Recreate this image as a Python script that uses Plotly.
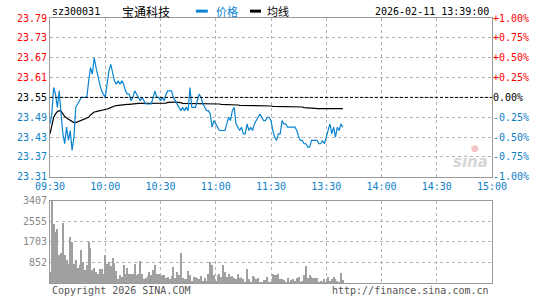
import plotly.graph_objects as go

# ---------------- data ----------------
minutes = list(range(160))  # minute index from 09:30 (lunch break removed)

price = [
    23.47, 23.50, 23.58, 23.56, 23.52, 23.57, 23.50, 23.44, 23.41, 23.46,
    23.42, 23.45, 23.39, 23.43, 23.52, 23.53, 23.54, 23.55, 23.55, 23.55,
    23.55, 23.60, 23.64, 23.62, 23.67, 23.64, 23.61, 23.59, 23.57, 23.56,
    23.55, 23.59, 23.63, 23.65, 23.62, 23.60, 23.59, 23.60, 23.59, 23.60,
    23.59, 23.57, 23.56, 23.56, 23.54, 23.55, 23.57, 23.56, 23.55, 23.54,
    23.55, 23.54, 23.53, 23.53, 23.53, 23.53, 23.55, 23.57, 23.55, 23.55,
    23.54, 23.55, 23.54, 23.56, 23.57, 23.57, 23.57, 23.55, 23.54, 23.53,
    23.52, 23.51, 23.52, 23.51, 23.52, 23.51, 23.58, 23.52, 23.52, 23.52,
    23.54, 23.56, 23.55, 23.53, 23.52, 23.51, 23.51, 23.50, 23.46, 23.48,
    23.47, 23.46, 23.45, 23.45, 23.45, 23.45, 23.47, 23.49, 23.48, 23.51,
    23.52, 23.47, 23.46, 23.45, 23.46, 23.44, 23.44, 23.47, 23.45, 23.46,
    23.45, 23.47, 23.48, 23.49, 23.50, 23.49, 23.48, 23.48, 23.49, 23.49,
    23.48, 23.45, 23.43, 23.42, 23.44, 23.44, 23.48, 23.47, 23.47, 23.46,
    23.46, 23.46, 23.46, 23.46, 23.45, 23.43, 23.42, 23.42, 23.41, 23.41,
    23.40, 23.40, 23.42, 23.42, 23.42, 23.42, 23.41, 23.41, 23.42, 23.41,
    23.43, 23.45, 23.47, 23.44, 23.46, 23.43, 23.46, 23.45, 23.47, 23.46,
]

avg_price = [
    23.440, 23.470, 23.490, 23.500, 23.507, 23.510, 23.508, 23.500, 23.492, 23.488,
    23.484, 23.480, 23.477, 23.474, 23.474, 23.476, 23.478, 23.480, 23.482, 23.484,
    23.486, 23.490, 23.497, 23.503, 23.506, 23.507, 23.508, 23.509, 23.510, 23.511,
    23.513, 23.515, 23.517, 23.520, 23.522, 23.524, 23.525, 23.526, 23.526, 23.527,
    23.528, 23.528, 23.529, 23.529, 23.530, 23.530, 23.531, 23.531, 23.532, 23.532,
    23.532, 23.532, 23.532, 23.532, 23.532, 23.532, 23.532, 23.532, 23.532, 23.532,
    23.532, 23.532, 23.532, 23.533, 23.535, 23.536, 23.536, 23.536, 23.536, 23.536,
    23.536, 23.534, 23.532, 23.532, 23.532, 23.532, 23.532, 23.532, 23.532, 23.532,
    23.532, 23.532, 23.532, 23.532, 23.532, 23.532, 23.532, 23.532, 23.532, 23.531,
    23.531, 23.531, 23.530, 23.529, 23.529, 23.529, 23.529, 23.529, 23.529, 23.529,
    23.529, 23.529, 23.527, 23.526, 23.526, 23.526, 23.526, 23.526, 23.526, 23.526,
    23.526, 23.526, 23.526, 23.526, 23.525, 23.525, 23.525, 23.524, 23.524, 23.524,
    23.524, 23.523, 23.523, 23.522, 23.522, 23.522, 23.522, 23.522, 23.522, 23.522,
    23.522, 23.522, 23.522, 23.522, 23.522, 23.522, 23.522, 23.521, 23.519, 23.519,
    23.519, 23.519, 23.519, 23.518, 23.517, 23.516, 23.516, 23.516, 23.516, 23.516,
    23.516, 23.516, 23.516, 23.516, 23.516, 23.516, 23.516, 23.516, 23.516, 23.516,
]

volume = [
    477, 3407, 2453, 2112, 2249, 1186, 1267, 2480, 1158, 954,
    790, 1935, 1703, 790, 981, 654, 750, 1363, 886, 545,
    750, 1703, 1472, 545, 654, 477, 382, 613, 613, 409,
    1158, 818, 886, 709, 1063, 845, 504, 164, 327, 245,
    777, 368, 654, 409, 409, 368, 818, 341, 409, 927,
    368, 164, 204, 286, 477, 341, 572, 777, 368, 409,
    300, 327, 327, 204, 273, 164, 313, 681, 204, 477,
    341, 1254, 204, 164, 164, 518, 341, 109, 245,
    245, 204, 191, 300, 109, 204, 82, 409, 886, 750,
    341, 109, 341, 409, 273, 777, 477, 245, 409, 273,
    300, 204, 164, 368, 204, 273, 164, 68, 613, 164,
    68, 300, 245, 164, 232, 27, 68, 136, 136, 273,
    68, 55, 409, 327, 327, 368, 164, 164, 136, 68,
    204, 68, 136, 164, 109, 204, 245, 68, 109, 327,
    736, 204, 327, 245, 204, 204, 204, 68, 109, 68,
    164, 68, 245, 109, 164, 245, 164, 109, 68, 450,
    136,
]

time_ticks = [0, 30, 60, 90, 120, 150, 180, 210, 240]
time_labels = ["09:30", "10:00", "10:30", "11:00", "11:30", "13:30", "14:00", "14:30", "15:00"]
price_ticks = [23.31, 23.37, 23.43, 23.49, 23.55, 23.61, 23.67, 23.73, 23.79]
price_labels = ["23.31", "23.37", "23.43", "23.49", "23.55", "23.61", "23.67", "23.73", "23.79"]
pct_labels = ["-1.00%", "-0.75%", "-0.50%", "-0.25%", "0.00%", "+0.25%", "+0.50%", "+0.75%", "+1.00%"]
vol_ticks = [852, 1703, 2555, 3407]
vol_labels = ["852", "1703", "2555", "3407"]
prev_close = 23.55

stock_code = "sz300031"
stock_name = "宝通科技"
legend_names = ["价格", "均线"]
timestamp = "2026-02-11 13:39:00"
copyright_text = "Copyright 2026 SINA.COM"
url_text = "http://finance.sina.com.cn"

# ---------------- styles ----------------
RED = "#ff0000"
BLUE = "#0e80c8"
LINE_BLUE = "#0a84d2"
FRAME = "#999999"
GRID = "#b4b4b4"
MONO = "DejaVu Sans Mono, Liberation Mono, monospace"
CJK = "Noto Sans CJK SC, sans-serif"


def colored(labels, ticks):
    out = []
    for lab, v in zip(labels, ticks):
        if abs(v - prev_close) < 1e-9:
            c = "#000000"
        elif v > prev_close:
            c = RED
        else:
            c = BLUE
        out.append(f"<span style='color:{c}'>{lab}</span>")
    return out


fig = go.Figure()

fig.add_trace(go.Bar(
    x=minutes, y=volume, xaxis="x2", yaxis="y2",
    marker=dict(color="#a0a0a0", line=dict(width=0)), width=0.5,
    showlegend=False, hoverinfo="skip",
))
fig.add_trace(go.Scatter(
    x=minutes, y=avg_price, mode="lines", name=legend_names[1],
    line=dict(color="#000000", width=1.2), showlegend=False,
))
fig.add_trace(go.Scatter(
    x=minutes, y=price, mode="lines", name=legend_names[0],
    line=dict(color=LINE_BLUE, width=1.2), showlegend=False,
))
# invisible trace to carry the right-hand percentage axis
fig.add_trace(go.Scatter(
    x=minutes, y=price, yaxis="y3", mode="lines",
    line=dict(color="rgba(0,0,0,0)", width=0), showlegend=False, hoverinfo="skip",
))

axis_common = dict(showline=True, mirror=True, linecolor=FRAME, linewidth=1,
                   zeroline=False, ticks="", gridcolor=GRID, griddash="dot", gridwidth=1)

fig.update_layout(
    width=545, height=300,
    margin=dict(l=50, r=53, t=18, b=15),
    paper_bgcolor="white", plot_bgcolor="white",
    bargap=0,
    xaxis=dict(domain=[0, 1], range=[0, 240], anchor="y",
               tickmode="array", tickvals=time_ticks, ticktext=time_labels,
               tickfont=dict(family=MONO, size=10, color=BLUE),
               showgrid=True, **axis_common),
    yaxis=dict(domain=[0.4007, 1], range=[23.31, 23.79], anchor="x",
               tickmode="array", tickvals=price_ticks,
               ticktext=colored(price_labels, price_ticks),
               tickfont=dict(family=MONO, size=10, color=BLUE),
               showgrid=True, **axis_common),
    yaxis3=dict(overlaying="y", side="right", anchor="x", range=[23.31, 23.79],
                tickmode="array", tickvals=price_ticks,
                ticktext=colored(pct_labels, price_ticks),
                tickfont=dict(family=MONO, size=10, color=BLUE),
                showgrid=False, showline=False, zeroline=False, ticks=""),
    xaxis2=dict(domain=[0, 1], range=[0, 240], anchor="y2",
                tickmode="array", tickvals=time_ticks, showticklabels=False,
                showgrid=True, **axis_common),
    yaxis2=dict(domain=[0, 0.3109], range=[0, 3407], anchor="x2",
                tickmode="array", tickvals=vol_ticks, ticktext=vol_labels,
                tickfont=dict(family=MONO, size=10, color="#888888"),
                showgrid=True, **axis_common),
)

# previous close dashed line
fig.add_shape(type="line", xref="x", yref="y", x0=0, x1=240, y0=prev_close, y1=prev_close,
              line=dict(color="#000000", width=1, dash="3px,2px"))

# header
hy = 1.026
fig.add_annotation(text=stock_code, xref="paper", yref="paper", x=0, y=hy,
                   xanchor="left", yanchor="middle", showarrow=False,
                   font=dict(family=MONO, size=10, color="#000000"))
fig.add_annotation(text=stock_name, xref="paper", yref="paper", x=0.158, y=hy,
                   xanchor="left", yanchor="middle", showarrow=False,
                   font=dict(family=CJK, size=12, color="#000000"))
fig.add_shape(type="line", xref="paper", yref="paper", x0=0.330, x1=0.357, y0=hy, y1=hy,
              line=dict(color=LINE_BLUE, width=3))
fig.add_annotation(text=legend_names[0], xref="paper", yref="paper", x=0.372, y=hy,
                   xanchor="left", yanchor="middle", showarrow=False,
                   font=dict(family=CJK, size=11, color=LINE_BLUE))
fig.add_shape(type="line", xref="paper", yref="paper", x0=0.4525, x1=0.4774, y0=hy, y1=hy,
              line=dict(color="#000000", width=3))
fig.add_annotation(text=legend_names[1], xref="paper", yref="paper", x=0.486, y=hy,
                   xanchor="left", yanchor="middle", showarrow=False,
                   font=dict(family=CJK, size=11, color="#000000"))
fig.add_annotation(text=timestamp, xref="paper", yref="paper", x=0.998, y=hy,
                   xanchor="right", yanchor="middle", showarrow=False,
                   font=dict(family=MONO, size=10, color="#000000"))

# footer
fy = -0.027
fig.add_annotation(text=copyright_text, xref="paper", yref="paper", x=0, y=fy,
                   xanchor="left", yanchor="middle", showarrow=False,
                   font=dict(family=MONO, size=10, color="#555555"))
fig.add_annotation(text=url_text, xref="paper", yref="paper", x=0.998, y=fy,
                   xanchor="right", yanchor="middle", showarrow=False,
                   font=dict(family=MONO, size=10, color="#555555"))

# watermark
fig.add_annotation(text="sina", xref="paper", yref="paper", x=0.952, y=0.455,
                   xanchor="center", yanchor="middle", showarrow=False,
                   font=dict(family="DejaVu Sans", size=15, color="#d6d6d6",
                             style="italic", weight="bold"))
fig.add_annotation(text="●", xref="paper", yref="paper", x=0.962, y=0.51,
                   xanchor="center", yanchor="middle", showarrow=False,
                   font=dict(family="DejaVu Sans", size=9, color="#f2c4c4"))

fig.write_html("out.html")
